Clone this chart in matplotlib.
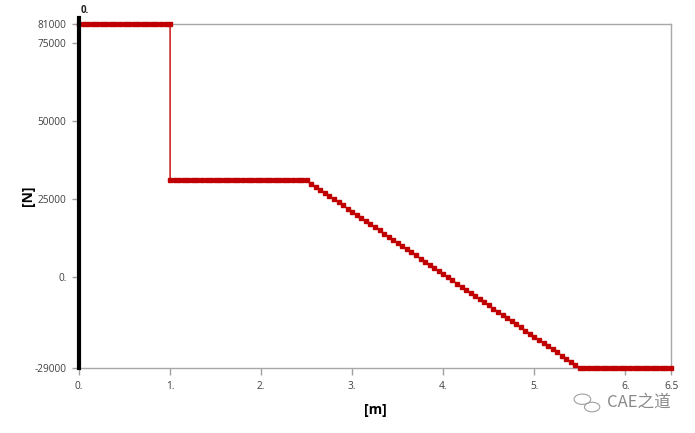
import matplotlib
matplotlib.use("Agg")
import matplotlib.pyplot as plt
from matplotlib.patches import Circle

# shear force along the beam, one value per result point (two at x = 1 for the jump)
length_m = [
    0.0, 0.05, 0.1, 0.15, 0.2, 0.25, 0.3, 0.35, 0.4, 0.45, 0.5, 0.55, 0.6, 0.65, 0.7, 0.75, 0.8, 0.85, 0.9, 0.95, 1.0,
    1.0, 1.05, 1.1, 1.15, 1.2, 1.25, 1.3, 1.35, 1.4, 1.45, 1.5, 1.55, 1.6, 1.65, 1.7, 1.75, 1.8, 1.85, 1.9, 1.95,
    2.0, 2.05, 2.1, 2.15, 2.2, 2.25, 2.3, 2.35, 2.4, 2.45, 2.5,
    2.55, 2.6, 2.65, 2.7, 2.75, 2.8, 2.85, 2.9, 2.95, 3.0, 3.05, 3.1, 3.15, 3.2, 3.25, 3.3, 3.35, 3.4, 3.45, 3.5,
    3.55, 3.6, 3.65, 3.7, 3.75, 3.8, 3.85, 3.9, 3.95, 4.0, 4.05, 4.1, 4.15, 4.2, 4.25, 4.3, 4.35, 4.4, 4.45, 4.5,
    4.55, 4.6, 4.65, 4.7, 4.75, 4.8, 4.85, 4.9, 4.95, 5.0, 5.05, 5.1, 5.15, 5.2, 5.25, 5.3, 5.35, 5.4, 5.45, 5.5,
    5.55, 5.6, 5.65, 5.7, 5.75, 5.8, 5.85, 5.9, 5.95, 6.0, 6.05, 6.1, 6.15, 6.2, 6.25, 6.3, 6.35, 6.4, 6.45, 6.5,
]
shear_N = [
    81000, 81000, 81000, 81000, 81000, 81000, 81000, 81000, 81000, 81000, 81000,
    81000, 81000, 81000, 81000, 81000, 81000, 81000, 81000, 81000, 81000,
    31000, 31000, 31000, 31000, 31000, 31000, 31000, 31000, 31000, 31000, 31000,
    31000, 31000, 31000, 31000, 31000, 31000, 31000, 31000, 31000, 31000,
    31000, 31000, 31000, 31000, 31000, 31000, 31000, 31000, 31000, 31000,
    30000, 29000, 28000, 27000, 26000, 25000, 24000, 23000, 22000, 21000,
    20000, 19000, 18000, 17000, 16000, 15000, 14000, 13000, 12000, 11000,
    10000, 9000, 8000, 7000, 6000, 5000, 4000, 3000, 2000, 1000,
    0, -1000, -2000, -3000, -4000, -5000, -6000, -7000, -8000, -9000,
    -10000, -11000, -12000, -13000, -14000, -15000, -16000, -17000, -18000, -19000,
    -20000, -21000, -22000, -23000, -24000, -25000, -26000, -27000, -28000, -29000,
    -29000, -29000, -29000, -29000, -29000, -29000, -29000, -29000, -29000, -29000,
    -29000, -29000, -29000, -29000, -29000, -29000, -29000, -29000, -29000, -29000,
]

x_ticks = [0, 1, 2, 3, 4, 5, 6, 6.5]
x_tick_labels = ["0.", "1.", "2.", "3.", "4.", "5.", "6.", "6.5"]
y_ticks = [-29000, 0, 25000, 50000, 75000, 81000]
y_tick_labels = ["-29000", "0.", "25000", "50000", "75000", "81000"]

plt.rcParams['font.family'] = ['Open Sans', 'DejaVu Sans']

fig = plt.figure(figsize=(6.95, 4.33), dpi=100)
ax = fig.add_axes([0.1137, 0.150, 0.8518, 0.7946])

ax.plot(length_m, shear_N, color="#c00000", lw=1.0, marker="s", ms=2.2,
        mec="#c00000", mfc="#c00000", clip_on=False, zorder=4)

ax.set_xlim(0, 6.5)
ax.set_ylim(-29000, 81000)
ax.set_xticks(x_ticks)
ax.set_xticklabels(x_tick_labels)
ax.set_yticks(y_ticks)
ax.set_yticklabels(y_tick_labels)
ax.tick_params(axis="both", direction="out", length=5, width=1, color="#a0a0a0",
               labelsize=7.3, labelcolor="#404040", pad=4)

for side in ["top", "right", "bottom"]:
    ax.spines[side].set_color("#a8a8a8")
    ax.spines[side].set_linewidth(1)
ax.spines["left"].set_visible(False)

# black origin axis, sticking out above the frame
ax.plot([0, 0], [-29000, 82900], color="black", lw=3, clip_on=False, zorder=5)
ax.text(0.02, 83600, "0.", fontsize=7, fontweight="bold", ha="left", va="bottom",
        color="#202020")

ax.set_xlabel("[m]", fontsize=10, fontweight="bold", labelpad=8)
ax.set_ylabel("[N]", fontsize=10, fontweight="bold", labelpad=0)

# watermark
fig.text(0.873, 0.070, "CAE之道", fontsize=12, color="#8a8a8a",
         family=['Noto Sans CJK SC', 'DejaVu Sans'], va="center", ha="left")
fig.patches.append(Circle((0.838, 0.078), 0.012, transform=fig.transFigure,
                          fill=False, ec="#a0a0a0", lw=0.8))
fig.patches.append(Circle((0.852, 0.060), 0.011, transform=fig.transFigure,
                          fill=False, ec="#a0a0a0", lw=0.8))

fig.savefig("out.png", dpi=100)
